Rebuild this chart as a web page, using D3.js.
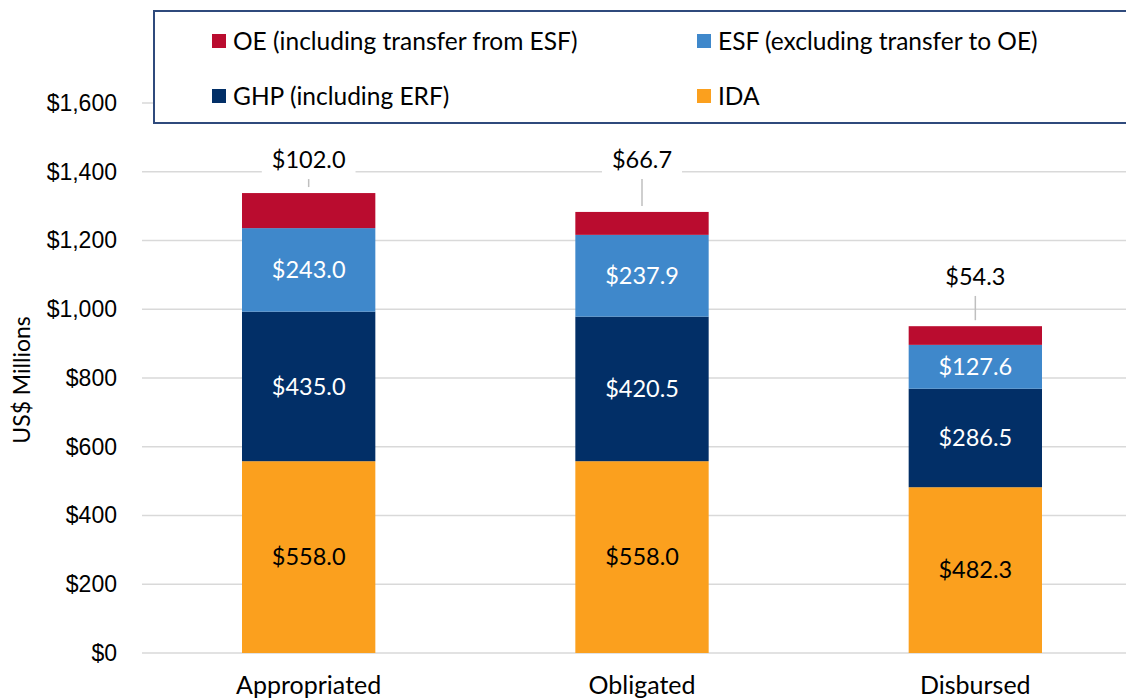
<!DOCTYPE html>
<html><head><meta charset="utf-8">
<script src="https://cdn.jsdelivr.net/npm/d3@7"></script>
<style>body{margin:0;background:#fff}svg{display:block;font-family:Lato,"Open Sans",sans-serif}</style>
</head><body><svg id="c" width="1126" height="700"></svg>
<script>
const categories = ["Appropriated", "Obligated", "Disbursed"];
const seriesNames = ["IDA", "GHP (including ERF)", "ESF (excluding transfer to OE)", "OE (including transfer from ESF)"];
const ida = [558.0, 558.0, 482.3];
const ghp = [435.0, 420.5, 286.5];
const esf = [243.0, 237.9, 127.6];
const oe  = [102.0, 66.7, 54.3];
const oeLabelAt = [1434, 1434, 1094];
const yTicks = [0, 200, 400, 600, 800, 1000, 1200, 1400, 1600];
const colors = ["#FBA01E", "#022F67", "#3F88CB", "#BA0C2F"];
const labelColors = ["#000", "#fff", "#fff"];

const svg = d3.select("#c");
const x = d3.scaleBand().domain(categories).range([142, 1142]).paddingInner(0.6).paddingOuter(0.3);
const y = d3.scaleLinear().domain([0, 1600]).range([653, 103]);

const yAxis = d3.axisLeft(y).tickValues(yTicks).tickSize(0).tickPadding(0)
  .tickFormat(d => "$" + d3.format(",")(d));
const ga = svg.append("g").attr("transform", "translate(117,0)").call(yAxis);
ga.select(".domain").remove();
ga.selectAll("text").attr("font-size", 23).attr("fill", "#000").attr("font-family", null);
svg.append("g").selectAll("line").data(yTicks).join("line")
  .attr("x1", 142).attr("x2", 1126).attr("y1", d => y(d)).attr("y2", d => y(d))
  .attr("stroke", "#d9d9d9").attr("stroke-width", 1.5);

const rows = categories.map((c, i) => ({cat: c, IDA: ida[i], GHP: ghp[i], ESF: esf[i], OE: oe[i]}));
const keys = ["IDA", "GHP", "ESF", "OE"];
const stacked = d3.stack().keys(keys)(rows);

const layers = svg.append("g").selectAll("g").data(stacked).join("g").attr("fill", (d, i) => colors[i]);
layers.selectAll("rect").data(d => d).join("rect")
  .attr("x", d => x(d.data.cat)).attr("width", x.bandwidth())
  .attr("y", d => y(d[1])).attr("height", d => y(d[0]) - y(d[1]));

stacked.slice(0, 3).forEach((s, si) => {
  svg.append("g").selectAll("text").data(s).join("text")
    .attr("x", d => x(d.data.cat) + x.bandwidth() / 2)
    .attr("y", d => y((d[0] + d[1]) / 2))
    .attr("dy", "0.35em").attr("text-anchor", "middle")
    .attr("font-size", 23.5).attr("fill", labelColors[si])
    .text(d => "$" + d3.format(".1f")(d[1] - d[0]));
});

const oeLayer = stacked[3];
const cg = svg.append("g");
oeLayer.forEach((d, i) => {
  const cx = x(d.data.cat) + x.bandwidth() / 2;
  const ly = y(oeLabelAt[i]);
  const t = cg.append("text").attr("x", cx).attr("y", ly).attr("dy", "0.35em")
    .attr("text-anchor", "middle").attr("font-size", 23.5).attr("fill", "#000")
    .text("$" + d3.format(".1f")(oe[i]));
  const bb = t.node().getBBox();
  cg.insert("rect", "text").attr("x", bb.x - 10).attr("y", bb.y - 2)
    .attr("width", bb.width + 20).attr("height", bb.height + 4).attr("fill", "#fff");
  cg.append("line").attr("x1", cx).attr("x2", cx)
    .attr("y1", ly + 19).attr("y2", y(d[1]) - 6)
    .attr("stroke", "#bfbfbf").attr("stroke-width", 1.5);
});

svg.append("g").selectAll("text").data(categories).join("text")
  .attr("x", d => x(d) + x.bandwidth() / 2).attr("y", 694)
  .attr("text-anchor", "middle").attr("font-size", 25).attr("fill", "#000").text(d => d);

svg.append("text").attr("transform", "translate(30,380) rotate(-90)")
  .attr("text-anchor", "middle").attr("font-size", 23).attr("fill", "#000").text("US$ Millions");

svg.append("rect").attr("x", 154).attr("y", 11).attr("width", 1000).attr("height", 112)
  .attr("fill", "#fff").attr("stroke", "#2F4A7C").attr("stroke-width", 2);
const legendItems = [
  {i: 3, lx: 212, ly: 41}, {i: 2, lx: 697, ly: 41},
  {i: 1, lx: 212, ly: 96}, {i: 0, lx: 697, ly: 96}
];
const lg = svg.append("g").selectAll("g").data(legendItems).join("g")
  .attr("transform", d => `translate(${d.lx},${d.ly})`);
lg.append("rect").attr("x", 0).attr("y", -7).attr("width", 14).attr("height", 14).attr("fill", d => colors[d.i]);
lg.append("text").attr("x", 21).attr("dy", "0.35em").attr("font-size", 24.5).attr("fill", "#000")
  .text(d => seriesNames[d.i]);
</script></body></html>
